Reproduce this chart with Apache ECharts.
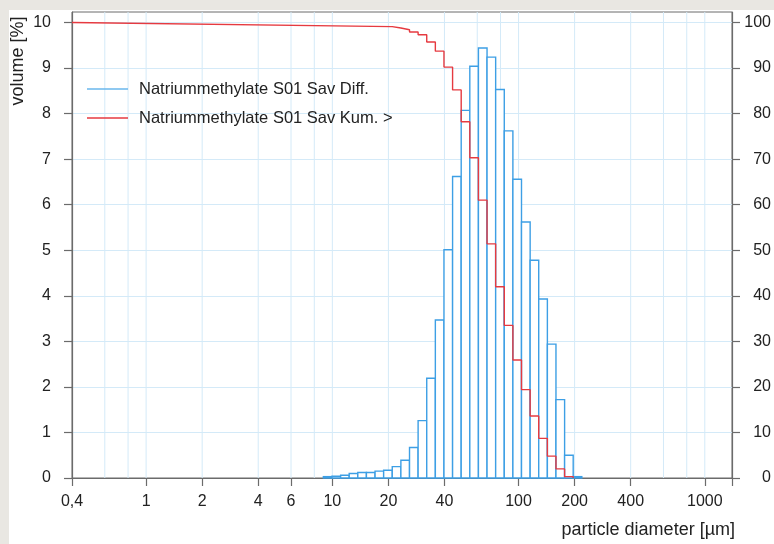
<!DOCTYPE html>
<html><head><meta charset="utf-8">
<script src="https://cdn.jsdelivr.net/npm/echarts@6/dist/echarts.min.js"></script>
<style>
html,body{margin:0;padding:0;background:#e9e7e2;overflow:hidden}
#panel{position:absolute;left:9px;top:10px;width:765px;height:534px;background:#fff}
#c{position:absolute;left:0;top:0;width:774px;height:544px}
</style>
</head><body><div id="panel"></div><div id="c"></div>
<script>
// particle size class edges [µm]
const binEdges = [8.95, 9.96, 11.08, 12.32, 13.70, 15.24, 16.96, 18.86, 20.98, 23.34, 25.97, 28.88, 32.13, 35.74, 39.76, 44.23, 49.20, 54.73, 60.88, 67.73, 75.34, 83.81, 93.23, 103.7, 115.4, 128.3, 142.8, 158.8, 176.7, 196.5, 218.6];
// differential volume [%] per class
const diffValues = [0.03, 0.04, 0.06, 0.10, 0.12, 0.12, 0.15, 0.17, 0.25, 0.39, 0.67, 1.26, 2.19, 3.47, 5.01, 6.62, 8.07, 9.04, 9.44, 9.24, 8.53, 7.62, 6.56, 5.62, 4.78, 3.93, 2.94, 1.72, 0.50, 0.03];
// cumulative (oversize) curve [%]
const kumLead = [[0.4, 100], [20.98, 99.1]];
const kumEdges = [20.98, 23.34, 25.97, 28.88, 32.13, 35.74, 39.76, 44.23, 49.20, 54.73, 60.88, 67.73, 75.34, 83.81, 93.23, 103.7, 115.4, 128.3, 142.8, 158.8, 176.7, 196.5];
const kumValues = [98.8, 98.4, 97.9, 97.3, 95.7, 93.7, 90.2, 85.2, 78.2, 70.3, 61.0, 51.4, 42.0, 33.5, 25.9, 19.4, 13.6, 8.7, 4.8, 2.0, 0.3];
// axis ticks
const sizeTicks = [0.4, 1, 2, 4, 6, 10, 20, 40, 100, 200, 400, 1000];
const sizeTickMarks = [0.4, 1, 2, 4, 6, 10, 20, 40, 100, 200, 400, 1000, 1400];
const sizeGrid = [0.6, 0.8, 1, 2, 4, 6, 8, 10, 20, 40, 60, 80, 100, 200, 400, 600, 800, 1000];
const volTicks = [0, 1, 2, 3, 4, 5, 6, 7, 8, 9, 10];
const kumTicks = [0, 10, 20, 30, 40, 50, 60, 70, 80, 90, 100];

const FONT = '"Liberation Sans", Arial, Helvetica, sans-serif';
const AXIS = '#6b6b6b', TXT = '#222', GRIDC = '#d4eaf8';
const BLUE = '#3d9fe5', BLUE_L = '#6ab7ec', RED = '#e63a40';
const S_DIFF = 'Natriummethylate S01 Sav Diff.';
const S_KUM = 'Natriummethylate S01 Sav Kum. >';

const barData = diffValues.map((v, i) => [binEdges[i], binEdges[i + 1], v]);
const kumData = kumLead.map(p => p.slice());
for (let i = 0; i < kumValues.length; i++) {
  kumData.push([kumEdges[i], kumValues[i]]);
  kumData.push([kumEdges[i + 1], kumValues[i]]);
}
kumData.push([kumEdges[kumEdges.length - 1], 0]);

const chart = echarts.init(document.getElementById('c'), null, {renderer: 'canvas'});
chart.setOption({
  animation: false,
  textStyle: {fontFamily: FONT},
  grid: {left: 72, right: 38, top: 12, bottom: 66, show: true, borderColor: AXIS, borderWidth: 1, backgroundColor: 'transparent'},
  legend: {
    orient: 'vertical', left: 87, top: 79, padding: 0, itemGap: 9,
    itemWidth: 41, itemHeight: 1.4,
    textStyle: {fontFamily: FONT, fontSize: 16.5, color: TXT, lineHeight: 20, padding: [0, 0, 0, 6]},
    data: [
      {name: S_DIFF, icon: 'rect', itemStyle: {color: BLUE_L}},
      {name: S_KUM, icon: 'rect', itemStyle: {color: RED}}
    ]
  },
  xAxis: {
    type: 'log', logBase: 10, min: 0.4, max: 1400,
    axisLine: {show: true, onZero: false, lineStyle: {color: AXIS, width: 1.2}},
    axisTick: {show: true, inside: false, length: 8, customValues: sizeTickMarks, lineStyle: {color: AXIS, width: 1.2}},
    axisLabel: {customValues: sizeTicks, margin: 16, fontSize: 16, color: TXT, fontFamily: FONT,
      formatter: v => String(v).replace('.', ',')},
    splitLine: {show: false}
  },
  yAxis: [
    {
      type: 'value', min: 0, max: 10.23, interval: 1, position: 'left',
      axisLine: {show: true, lineStyle: {color: AXIS, width: 1.2}},
      axisTick: {show: true, length: 8, customValues: volTicks, lineStyle: {color: AXIS, width: 1.2}},
      axisLabel: {customValues: volTicks, margin: 21, fontSize: 16, color: TXT, fontFamily: FONT},
      splitLine: {show: true, lineStyle: {color: GRIDC, width: 1}}
    },
    {
      type: 'value', min: 0, max: 102.3, interval: 10, position: 'right',
      axisLine: {show: true, lineStyle: {color: AXIS, width: 1.2}},
      axisTick: {show: true, length: 8, customValues: kumTicks, lineStyle: {color: AXIS, width: 1.2}},
      axisLabel: {customValues: kumTicks, margin: 39, align: 'right', fontSize: 16, color: TXT, fontFamily: FONT},
      splitLine: {show: false}
    }
  ],
  graphic: [
    {type: 'text', right: 39, top: 521, style: {text: 'particle diameter [µm]', font: '18px ' + FONT, fill: TXT}},
    {type: 'text', x: 18, y: 61, rotation: Math.PI / 2,
      style: {text: 'volume [%]', x: 0, y: 0, align: 'center', verticalAlign: 'middle', font: '18px ' + FONT, fill: TXT}}
  ],
  series: [
    {
      name: 'grid', type: 'custom', z: 1, silent: true, xAxisIndex: 0, yAxisIndex: 0,
      data: sizeGrid.map(v => [v]),
      encode: {x: 0},
      renderItem: (params, api) => {
        const cs = params.coordSys;
        const p = api.coord([api.value(0), 0]);
        return {type: 'line', shape: {x1: p[0], y1: cs.y, x2: p[0], y2: cs.y + cs.height},
          style: {stroke: GRIDC, lineWidth: 1}};
      }
    },
    {
      name: S_DIFF, type: 'custom', z: 3, xAxisIndex: 0, yAxisIndex: 0,
      itemStyle: {color: BLUE_L},
      data: barData,
      encode: {x: [0, 1], y: 2},
      renderItem: (params, api) => {
        const a = api.coord([api.value(0), 0]);
        const b = api.coord([api.value(1), api.value(2)]);
        return {type: 'rect', shape: {x: a[0], y: b[1], width: b[0] - a[0], height: a[1] - b[1]},
          style: {fill: '#ffffff', stroke: BLUE, lineWidth: 1.4}};
      }
    },
    {
      name: S_KUM, type: 'line', z: 5, xAxisIndex: 0, yAxisIndex: 1,
      data: kumData, symbol: 'none', showSymbol: false,
      lineStyle: {color: RED, width: 1.4}, itemStyle: {color: RED}
    }
  ]
});
</script>
</body></html>
